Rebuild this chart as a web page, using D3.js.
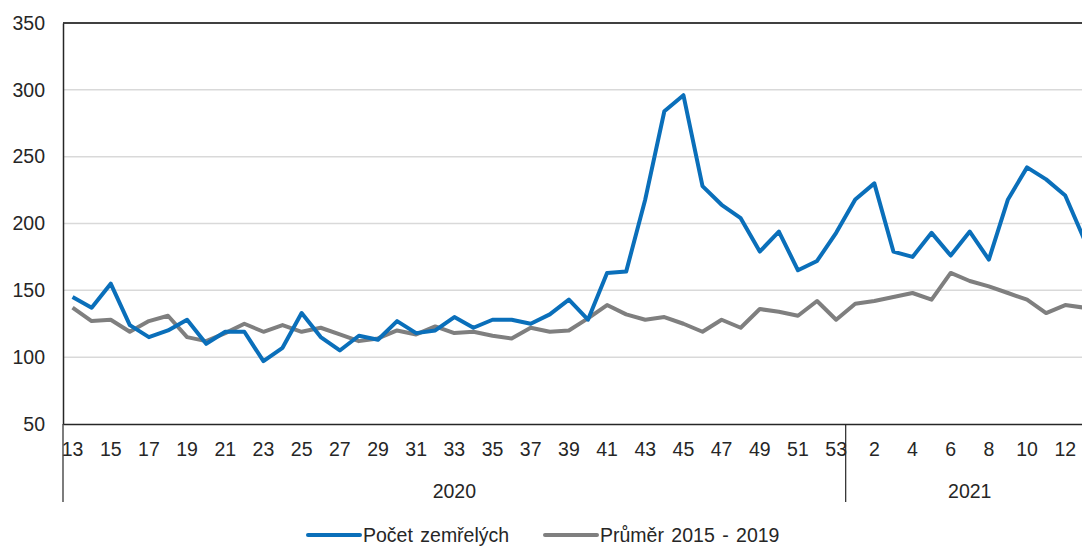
<!DOCTYPE html>
<html>
<head>
<meta charset="utf-8">
<script src="https://cdn.jsdelivr.net/npm/d3@7"></script>
<style>
  body { margin: 0; background: #fff; }
  svg { display: block; font-family: "Liberation Sans", Arial, sans-serif; }
</style>
</head>
<body>
<script>
// týdny (kategorie osy x)
const weeks2020 = [13,14,15,16,17,18,19,20,21,22,23,24,25,26,27,28,29,30,31,32,33,34,35,36,37,38,39,40,41,42,43,44,45,46,47,48,49,50,51,52,53]
const weeks2021 = [1,2,3,4,5,6,7,8,9,10,11,12,13]
const years = ["2020", "2021"]

// Počet zemřelých
const deaths2020 = [145,137,155,124,115,120,128,110,119,119,97,107,133,115,105,116,113,127,118,120,130,122,128,128,125,132,143,128,163,164,218,284,296,228,214,204,179,194,165,172,193]
const deaths2021 = [218,230,179,175,193,176,194,173,218,242,233,221,188]
// Průměr 2015 - 2019
const avg2020 = [137,127,128,119,127,131,115,112,118,125,119,124,119,122,117,112,114,120,117,123,118,119,116,114,122,119,120,129,139,132,128,130,125,119,128,122,136,134,131,142,128]
const avg2021 = [140,142,145,148,143,163,157,153,148,143,133,139,137]

const yTicks = [50,100,150,200,250,300,350]
const seriesNames = ["Počet zemřelých", "Průměr 2015 - 2019"]
const colors = ["#0a6fba", "#7f7f7f"]

// poskládat tabulku
let rows = []
weeks2020.forEach((w, i) => rows.push({key: "2020-" + w, week: w, year: "2020", deaths: deaths2020[i], avg: avg2020[i]}))
weeks2021.forEach((w, i) => rows.push({key: "2021-" + w, week: w, year: "2021", deaths: deaths2021[i], avg: avg2021[i]}))

const W = 1082, H = 546
const margin = {left: 63, top: 23, bottom: 424}
const bandW = 19.09
const plotRight = margin.left + bandW * rows.length

const svg = d3.select("body").append("svg")
  .attr("width", W)
  .attr("height", H)

const x = d3.scaleBand()
  .domain(rows.map(d => d.key))
  .range([margin.left, plotRight])
  .paddingInner(0).paddingOuter(0)
const cx = k => x(k) + x.bandwidth() / 2

const y = d3.scaleLinear()
  .domain([50, 350])
  .range([margin.bottom, margin.top])

// mřížka
svg.append("g")
  .selectAll("line")
  .data(yTicks.filter(t => t > 50 && t < 350))
  .enter().append("line")
  .attr("x1", margin.left).attr("x2", plotRight)
  .attr("y1", d => y(d)).attr("y2", d => y(d))
  .attr("stroke", "#d9d9d9")
  .attr("stroke-width", 1.5)

// horní okraj
svg.append("line")
  .attr("x1", margin.left).attr("x2", plotRight)
  .attr("y1", y(350)).attr("y2", y(350))
  .attr("stroke", "#404040").attr("stroke-width", 2)

// osa y
const yAxis = svg.append("g")
  .attr("transform", "translate(" + margin.left + ",0)")
  .call(d3.axisLeft(y).tickValues(yTicks).tickSize(0).tickPadding(18))
yAxis.select(".domain").attr("stroke", "#262626").attr("stroke-width", 1.5)
yAxis.selectAll("text").attr("font-size", "19.5px").attr("fill", "#262626")
  .attr("font-family", "Liberation Sans, Arial, sans-serif")

// osa x
const xAxis = svg.append("g")
  .attr("transform", "translate(0," + margin.bottom + ")")
  .call(d3.axisBottom(x)
    .tickValues(rows.filter((d, i) => i % 2 === 0).map(d => d.key))
    .tickFormat(k => k.split("-")[1])
    .tickSize(0).tickPadding(18))
xAxis.select(".domain").attr("stroke", "#262626").attr("stroke-width", 1.5)
xAxis.selectAll("text").attr("font-size", "19.5px").attr("fill", "#262626")
  .attr("font-family", "Liberation Sans, Arial, sans-serif")

// oddělovače roků
const yearBounds = years.map(yr => {
  const r = rows.filter(d => d.year === yr)
  return {year: yr, x0: x(r[0].key), x1: x(r[r.length - 1].key) + x.bandwidth()}
})
svg.append("g")
  .selectAll("line")
  .data([yearBounds[0].x0, yearBounds[0].x1, yearBounds[1].x1])
  .enter().append("line")
  .attr("x1", d => d).attr("x2", d => d)
  .attr("y1", margin.bottom).attr("y2", 502)
  .attr("stroke", "#262626").attr("stroke-width", 1.2)

svg.append("g")
  .selectAll("text")
  .data(yearBounds)
  .enter().append("text")
  .attr("x", d => (d.x0 + d.x1) / 2)
  .attr("y", 491)
  .attr("dy", "0.35em")
  .attr("text-anchor", "middle")
  .attr("font-size", "19.5px")
  .attr("fill", "#262626")
  .text(d => d.year)

// čáry
const lineAvg = d3.line().x(d => cx(d.key)).y(d => y(d.avg))
const lineDeaths = d3.line().x(d => cx(d.key)).y(d => y(d.deaths))

svg.append("path")
  .datum(rows)
  .attr("d", lineAvg)
  .attr("fill", "none")
  .attr("stroke", colors[1])
  .attr("stroke-width", 4)
  .attr("stroke-linejoin", "round")

svg.append("path")
  .datum(rows)
  .attr("d", lineDeaths)
  .attr("fill", "none")
  .attr("stroke", colors[0])
  .attr("stroke-width", 4)
  .attr("stroke-linejoin", "round")

// legenda
const legendX = [308, 545]
const legend = svg.append("g")
  .selectAll("g")
  .data(seriesNames)
  .enter().append("g")
  .attr("transform", (d, i) => "translate(" + legendX[i] + ",535)")
legend.append("line")
  .attr("x1", 0).attr("x2", 52)
  .attr("stroke", (d, i) => colors[i])
  .attr("stroke-width", 4)
  .attr("stroke-linecap", "round")
legend.append("text")
  .attr("x", 55)
  .attr("dy", "0.35em")
  .attr("font-size", "19.5px")
  .attr("fill", "#262626")
  .attr("word-spacing", "2px")
  .text(d => d)
</script>
</body>
</html>
